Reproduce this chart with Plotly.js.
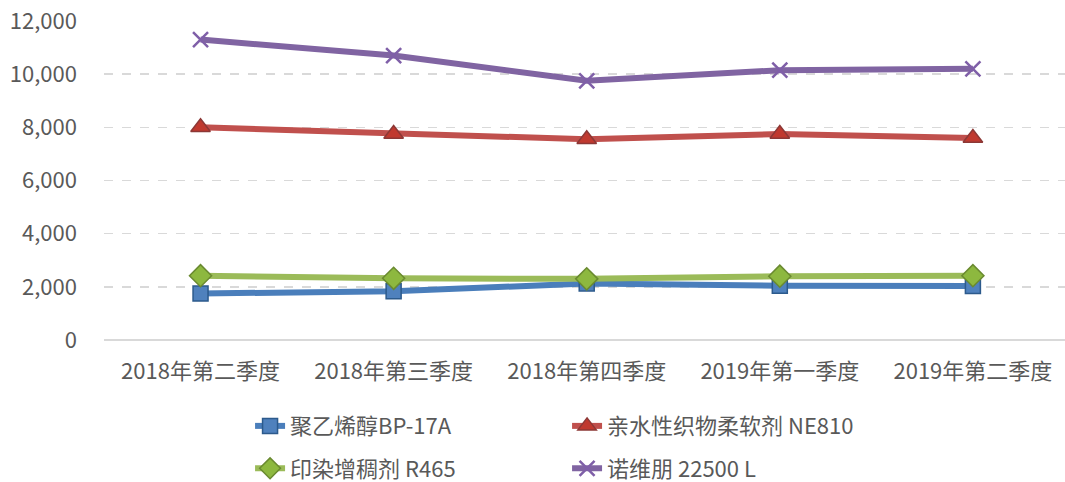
<!DOCTYPE html>
<html><head><meta charset="utf-8">
<script src="https://cdn.plot.ly/plotly-3.0.1.min.js"></script>
<style>html,body{margin:0;padding:0;background:#fff;}#chart{width:1065px;height:482px;}</style>
</head><body><div id="chart"></div>
<script>
const categories = ["2018年第二季度","2018年第三季度","2018年第四季度","2019年第一季度","2019年第二季度"];
const seriesNames = ["聚乙烯醇BP-17A","亲水性织物柔软剂 NE810","印染增稠剂 R465","诺维朋 22500 L"];
const pva = [1750, 1830, 2130, 2040, 2030];
const ne810 = [8000, 7750, 7550, 7750, 7600];
const r465 = [2420, 2320, 2300, 2400, 2420];
const nvp = [11300, 10700, 9750, 10150, 10200];
const yTicks = [0, 2000, 4000, 6000, 8000, 10000, 12000];

const font = "'Noto Sans CJK SC', sans-serif";
const traces = [
  {x: categories, y: pva, name: seriesNames[0], mode: "lines+markers", legend: "legend",
   line: {color: "#4A7EBB", width: 6},
   marker: {symbol: "square", size: 15, color: "#4F81BD", line: {color: "#2C5A8C", width: 1.5}}},
  {x: categories, y: ne810, name: seriesNames[1], mode: "lines+markers", legend: "legend",
   line: {color: "#C0504D", width: 6},
   marker: {symbol: "triangle-up", size: 17, color: "#C0392F", line: {color: "#8C3836", width: 1.5}}},
  {x: categories, y: r465, name: seriesNames[2], mode: "lines+markers", legend: "legend2",
   line: {color: "#9BBB59", width: 6},
   marker: {symbol: "diamond", size: 17, color: "#8DB83F", line: {color: "#6A8A30", width: 1.5}}},
  {x: categories, y: nvp, name: seriesNames[3], mode: "lines+markers", legend: "legend2",
   line: {color: "#8064A2", width: 6},
   marker: {symbol: "x-thin", size: 15, color: "#7F5FA8", line: {color: "#7F5FA8", width: 2.5}}}
];

const legendBase = {orientation: "h", xanchor: "left", yanchor: "middle",
  xref: "container", yref: "container",
  font: {family: font, size: 22, color: "#595959"}, entrywidth: 272, entrywidthmode: "pixels",
  bgcolor: "rgba(0,0,0,0)"};

const layout = {
  width: 1065, height: 482,
  margin: {l: 104, r: 0, t: 21, b: 142},
  paper_bgcolor: "#fff", plot_bgcolor: "#fff",
  showlegend: true,
  font: {family: font, size: 22, color: "#595959"},
  xaxis: {type: "category", range: [-0.5, 4.477], showgrid: false, zeroline: false, automargin: false,
    showline: false, ticks: "", ticklabelstandoff: 16, tickfont: {family: font, size: 22, color: "#595959"}},
  yaxis: {range: [0, 12000], tickvals: yTicks, tickformat: ",d", showgrid: true, automargin: false,
    gridcolor: "#D9D9D9", griddash: "dash", gridwidth: 1.5, zeroline: true, zerolinecolor: "#D9D9D9",
    zerolinewidth: 1.5, showline: false, ticks: "", ticklabelstandoff: 26,
    tickfont: {family: font, size: 22, color: "#595959"}},
  legend: Object.assign({}, legendBase, {x: 0.2348, y: 0.116}),
  legend2: Object.assign({}, legendBase, {x: 0.2348, y: 0.028})
};
Plotly.newPlot("chart", traces, layout, {displayModeBar: false, staticPlot: true});
</script></body></html>
